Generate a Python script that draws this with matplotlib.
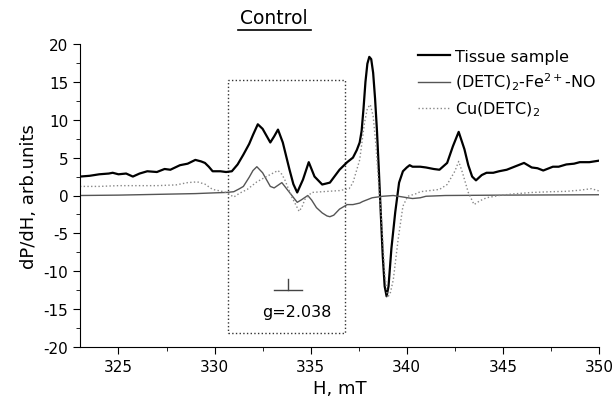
"""
EPR spectrum of control tissue with simulated components.
"""
import matplotlib
matplotlib.use('Agg')
import matplotlib.pyplot as plt
from matplotlib.patches import Rectangle
from matplotlib.lines import Line2D
from matplotlib.ticker import MultipleLocator

plt.rcParams['font.family'] = 'DejaVu Sans'
plt.rcParams['mathtext.fontset'] = 'dejavusans'
plt.rcParams['mathtext.default'] = 'regular'
plt.rcParams['axes.unicode_minus'] = False

# Tissue sample spectrum
tissue_h = [323.0, 323.5, 324.0, 324.5, 324.7, 325.0, 325.4, 325.75, 326.1, 326.5,
            327.0, 327.4, 327.7, 328.2, 328.6, 329.0, 329.3, 329.5, 329.7, 329.9,
            330.3, 330.6, 330.9, 331.2, 331.5, 331.8, 332.0, 332.25, 332.5, 332.9,
            333.1, 333.3, 333.55, 333.9, 334.1, 334.3, 334.6, 334.9, 335.2, 335.6,
            336.0, 336.5, 336.9, 337.2, 337.4, 337.55, 337.65, 337.75, 337.85, 337.95,
            338.05, 338.15, 338.25, 338.35, 338.45, 338.55, 338.65, 338.75, 338.85, 338.95,
            339.05, 339.2, 339.4, 339.6, 339.8, 340.0, 340.15, 340.3, 340.7, 341.0,
            341.4, 341.7, 342.1, 342.4, 342.7, 343.0, 343.2, 343.4, 343.6, 343.9,
            344.15, 344.5, 344.8, 345.2, 345.5, 345.8, 346.1, 346.5, 346.8, 347.1,
            347.6, 347.9, 348.3, 348.7, 349.0, 349.5, 350.0]
tissue_y = [2.5, 2.6, 2.8, 2.9, 3.0, 2.8, 2.9, 2.5, 2.9, 3.2,
            3.1, 3.5, 3.4, 4.0, 4.2, 4.7, 4.5, 4.3, 3.8, 3.2,
            3.2, 3.1, 3.2, 4.1, 5.4, 6.8, 8.0, 9.4, 8.8, 7.0,
            7.8, 8.7, 7.0, 3.4, 1.5, 0.4, 2.1, 4.4, 2.5, 1.45,
            1.7, 3.4, 4.4, 5.0, 6.0, 7.0, 8.5, 11.5, 15.0, 17.4,
            18.3, 18.0, 16.2, 12.8, 8.5, 3.2, -2.5, -8.0, -12.0, -13.3,
            -12.0, -7.0, -2.2, 1.7, 3.2, 3.7, 4.0, 3.8, 3.8, 3.7,
            3.5, 3.4, 4.3, 6.5, 8.4, 6.1, 4.0, 2.5, 2.0, 2.7,
            3.0, 3.0, 3.2, 3.4, 3.7, 4.0, 4.3, 3.7, 3.6, 3.3,
            3.8, 3.8, 4.1, 4.2, 4.4, 4.4, 4.6]

# (DETC)2-Fe2+-NO component
feno_h = [323.0, 325.0, 327.0, 329.0, 330.0, 330.6, 331.0, 331.3, 331.5, 331.8,
          332.0, 332.2, 332.5, 332.9, 333.1, 333.5, 333.9, 334.3, 334.5, 334.85,
          335.05, 335.3, 335.6, 335.85, 336.0, 336.2, 336.5, 336.9, 337.2, 337.55,
          337.7, 338.2, 338.75, 339.3, 339.8, 340.3, 340.7, 341.0, 342.0, 345.0, 350.0]
feno_y = [0.0, 0.05, 0.15, 0.25, 0.35, 0.4, 0.5, 0.9, 1.2, 2.4,
          3.3, 3.8, 3.0, 1.2, 1.0, 1.7, 0.4, -0.9, -0.6, 0.0,
          -0.6, -1.6, -2.3, -2.7, -2.8, -2.6, -1.8, -1.2, -1.2, -1.0,
          -0.8, -0.3, -0.1, 0.0, -0.2, -0.4, -0.3, -0.1, 0.0, 0.05, 0.1]

# Cu(DETC)2 component
cu_h = [323.0, 324.0, 325.0, 326.0, 327.0, 328.0, 328.6, 329.1, 329.5, 329.9,
        330.3, 330.6, 331.0, 331.3, 331.7, 332.2, 332.7, 333.0, 333.3, 333.5,
        333.65, 334.0, 334.3, 334.4, 334.55, 334.7, 335.05, 335.6, 336.5, 337.0,
        337.2, 337.55, 337.8, 337.95, 338.1, 338.25, 338.4, 338.55, 338.7, 338.85,
        339.0, 339.15, 339.3, 339.55, 339.8, 340.05, 340.5, 340.7, 341.7, 342.1,
        342.5, 342.7, 342.9, 343.2, 343.5, 343.8, 344.15, 344.8, 345.5, 346.5,
        347.5, 348.3, 349.0, 349.6, 350.0]
cu_y = [1.2, 1.2, 1.3, 1.3, 1.3, 1.4, 1.7, 1.8, 1.5, 0.8,
        0.6, 0.4, -0.2, 0.3, 0.8, 1.8, 2.5, 2.9, 3.3, 2.8,
        2.1, -0.1, -1.6, -2.1, -1.5, -0.5, 0.4, 0.5, 0.65, 0.9,
        1.7, 4.7, 9.6, 11.5, 12.0, 10.5, 6.5, 1.0, -3.6, -10.2,
        -13.5, -12.8, -11.1, -5.8, -1.4, -0.1, 0.25, 0.5, 0.8, 1.45,
        3.2, 4.5, 3.0, 0.4, -1.2, -0.7, -0.3, 0.0, 0.2, 0.4,
        0.5, 0.55, 0.7, 0.9, 0.6]

fig = plt.figure(figsize=(6.15, 4.1), dpi=100)
ax = fig.add_axes([80 / 615, 62 / 410, 519 / 615, 303 / 410])

ax.plot(tissue_h, tissue_y, color='black', lw=1.6, label='Tissue sample')
ax.plot(feno_h, feno_y, color='#555555', lw=1.0, label='(DETC)$_2$-Fe$^{2+}$-NO')
ax.plot(cu_h, cu_y, color='#888888', lw=1.0, ls=':', label='Cu(DETC)$_2$')

# dotted region box and g-factor marker
ax.add_patch(Rectangle((330.7, -18.1), 6.1, 33.3, fill=False, ls=':',
                       lw=1.0, edgecolor='#333333'))
ax.plot([333.1, 334.55], [-12.5, -12.5], color='#444444', lw=1.0)
ax.plot([333.8, 333.8], [-11.0, -12.5], color='#444444', lw=1.0)
ax.text(334.3, -15.3, 'g=2.038', ha='center', va='center', fontsize=11.5)

ax.set_xlim(323, 350)
ax.set_ylim(-20, 20)
ax.xaxis.set_major_locator(MultipleLocator(5))
ax.xaxis.set_minor_locator(MultipleLocator(2.5))
ax.yaxis.set_major_locator(MultipleLocator(5))
ax.yaxis.set_minor_locator(MultipleLocator(2.5))
ax.tick_params(which='major', direction='out', length=5, labelsize=11)
ax.tick_params(which='minor', direction='out', length=3)
for side in ['top', 'right']:
    ax.spines[side].set_visible(False)

ax.set_xlabel('H, mT', fontsize=13)
ax.set_ylabel('dP/dH, arb.units', fontsize=13)

ax.legend(loc='upper left', bbox_to_anchor=(418 / 615, 1 - 50 / 410),
          bbox_transform=fig.transFigure, frameon=False, fontsize=11.5,
          handlelength=2.0, handletextpad=0.3, borderpad=0, borderaxespad=0,
          labelspacing=0.45)

# underlined title
fig.text(274 / 615, 1 - 19 / 410, 'Control', ha='center', va='center', fontsize=13.5)
fig.add_artist(Line2D([238 / 615, 311 / 615], [1 - 31 / 410, 1 - 31 / 410],
                      transform=fig.transFigure, color='black', lw=1.2))

fig.savefig('out.png', dpi=100)
